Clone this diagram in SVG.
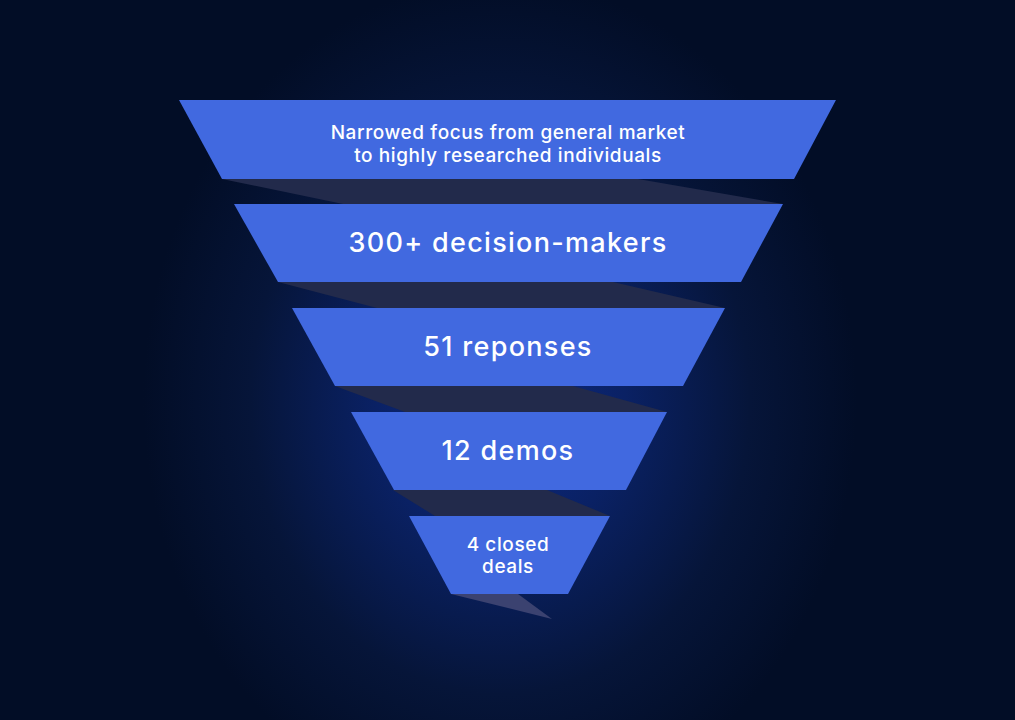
<svg xmlns="http://www.w3.org/2000/svg" width="1015" height="720" viewBox="0 0 1015 720">
<defs>
<radialGradient id="bg" cx="500" cy="400" r="420" gradientUnits="userSpaceOnUse" gradientTransform="translate(500 400) scale(0.85 1) translate(-500 -400)">
<stop offset="0" stop-color="#0c2a86"/>
<stop offset="0.35" stop-color="#0a2164"/>
<stop offset="0.7" stop-color="#061539"/>
<stop offset="1" stop-color="#020d26"/>
</radialGradient>
<style>
.band{fill:#4169E0;}
.shadow{fill:#222a4b;}
.tip{fill:#3b4270;}
.t{fill:#ffffff;font-family:Inter,"Open Sans","Liberation Sans",sans-serif;font-weight:500;text-anchor:middle;}
.s{font-size:19px;letter-spacing:0.6px;}
.l{font-size:27px;letter-spacing:1.3px;}
</style>
</defs>
<rect width="1015" height="720" fill="#020d26"/>
<rect width="1015" height="720" fill="url(#bg)"/>
<g id="connectors">
<polygon class="shadow" points="222,179 638,179 783,204 343,204"/>
<polygon class="shadow" points="278,282 613,282 725,308 377,308"/>
<polygon class="shadow" points="335,386 573,386 667,412 405,412"/>
<polygon class="shadow" points="393,490 547,490 610,516 435,516"/>
<polygon class="tip" points="451,594 518,594 552,619"/>
</g>
<g id="stage1">
<polygon class="band" points="179,100 836,100 794,179 222,179"/>
<text class="t s" x="508" y="139">Narrowed focus from general market</text>
<text class="t s" x="508" y="162">to highly researched individuals</text>
</g>
<g id="stage2">
<polygon class="band" points="234,204 783,204 741,282 278,282"/>
<text class="t l" x="508" y="252">300+ decision-makers</text>
</g>
<g id="stage3">
<polygon class="band" points="292,308 725,308 683,386 335,386"/>
<text class="t l" x="508" y="356">51 reponses</text>
</g>
<g id="stage4">
<polygon class="band" points="351,412 667,412 626,490 394,490"/>
<text class="t l" x="508" y="460">12 demos</text>
</g>
<g id="stage5">
<polygon class="band" points="409,516 610,516 568,594 451,594"/>
<text class="t s" x="508" y="551">4 closed</text>
<text class="t s" x="508" y="573">deals</text>
</g>
</svg>
